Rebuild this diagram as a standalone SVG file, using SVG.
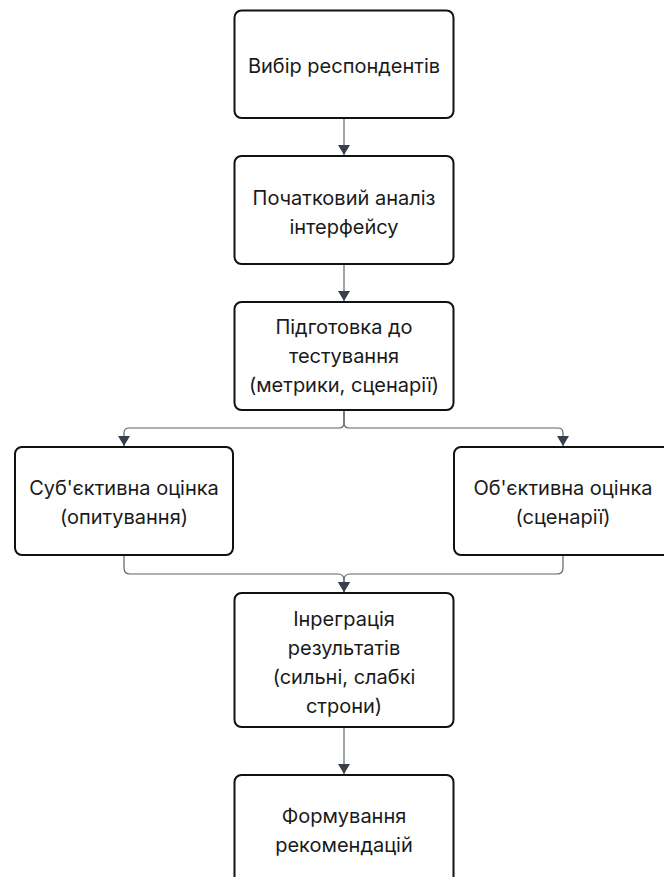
<svg xmlns="http://www.w3.org/2000/svg" width="664" height="877" viewBox="0 0 664 877">
<defs>
<style>
.node rect{fill:#ffffff;stroke:#111111;stroke-width:2;}
.node text{font-family:Inter,"Noto Sans",sans-serif;font-size:20px;fill:#1a1a1a;text-anchor:middle;}
.edge{fill:none;stroke:#5f6368;stroke-width:1.2;}
</style>
<marker id="arrow" viewBox="0 0 10 16" refX="10" refY="8" markerWidth="10" markerHeight="16" markerUnits="userSpaceOnUse" orient="auto">
<path d="M0,2 L10,8 L0,14 z" fill="#3a4049"/>
</marker>
</defs>
<rect width="664" height="877" fill="#ffffff"/>
<g id="connectors">
<path class="edge" d="M344,118 L344,155" marker-end="url(#arrow)"/>
<path class="edge" d="M344,264 L344,301" marker-end="url(#arrow)"/>
<path class="edge" d="M344,410 L344,423 Q344,428 339,428 L129,428 Q124,428 124,433 L124,446" marker-end="url(#arrow)"/>
<path class="edge" d="M344,410 L344,423 Q344,428 349,428 L558,428 Q563,428 563,433 L563,446" marker-end="url(#arrow)"/>
<path class="edge" d="M124,555 L124,568 Q124,574 130,574 L338,574 Q344,574 344,580 L344,592" marker-end="url(#arrow)"/>
<path class="edge" d="M563,555 L563,568 Q563,574 557,574 L350,574 Q344,574 344,580 L344,592" marker-end="url(#arrow)"/>
<path class="edge" d="M344,727 L344,774" marker-end="url(#arrow)"/>
</g>
<g id="n1" class="node">
<rect x="234.5" y="10.5" width="219" height="107.5" rx="7"/>
<text x="344" y="72.5">Вибір респондентів</text>
</g>
<g id="n2" class="node">
<rect x="234.5" y="156" width="219" height="108" rx="7"/>
<text x="344" y="204.5">Початковий аналіз</text>
<text x="344" y="233.5">інтерфейсу</text>
</g>
<g id="n3" class="node">
<rect x="234.5" y="302" width="219" height="108" rx="7"/>
<text x="344" y="334">Підготовка до</text>
<text x="344" y="363">тестування</text>
<text x="344" y="392">(метрики, сценарії)</text>
</g>
<g id="n4" class="node">
<rect x="15" y="447" width="218" height="108" rx="7"/>
<text x="124" y="495">Суб'єктивна оцінка</text>
<text x="124" y="524">(опитування)</text>
</g>
<g id="n5" class="node">
<rect x="454" y="447" width="218" height="108" rx="7"/>
<text x="563" y="495">Об'єктивна оцінка</text>
<text x="563" y="524">(сценарії)</text>
</g>
<g id="n6" class="node">
<rect x="234.5" y="593" width="219" height="134" rx="7"/>
<text x="344" y="625.5">Інреграція</text>
<text x="344" y="654.5">результатів</text>
<text x="344" y="683.5">(сильні, слабкі</text>
<text x="344" y="712.5">строни)</text>
</g>
<g id="n7" class="node">
<rect x="234.5" y="775" width="219" height="112" rx="7"/>
<text x="344" y="823">Формування</text>
<text x="344" y="852">рекомендацій</text>
</g>
</svg>
